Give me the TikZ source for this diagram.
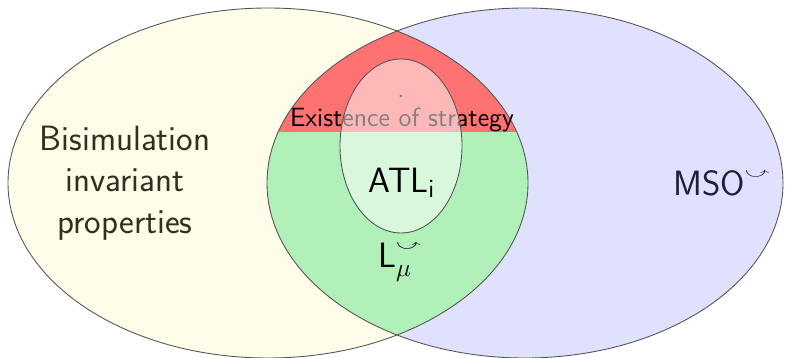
\documentclass[tikz,border=0pt]{standalone}
\usepackage{amssymb}
\usepackage{graphicx}
\newcommand{\unrav}{\raisebox{.35ex}{\rotatebox[origin=c]{180}{\scalebox{1}[.6]{$\scriptstyle\curvearrowleft$}}}}
\definecolor{bisfill}{RGB}{255,252,233}
\definecolor{msofill}{RGB}{224,224,255}
\definecolor{exred}{RGB}{255,114,114}
\definecolor{lmgreen}{RGB}{177,240,184}
\definecolor{bistext}{RGB}{48,48,30}
\definecolor{msotext}{RGB}{32,32,56}
\definecolor{rim}{RGB}{85,85,85}

\begin{document}
\begin{tikzpicture}[x=0.02cm,y=-0.02cm,font=\sffamily]
	\tikzstyle{rand}=[draw=rim,line width=.5pt];
	\tikzstyle{gross}=[font=\sffamily\fontsize{20}{23.5}\selectfont,align=center];
	\tikzstyle{klein}=[font=\sffamily\fontsize{15}{18}\selectfont,inner sep=0pt];
	\useasboundingbox (0,0) rectangle (787,358);
	%% the two big sets
	\fill[bisfill] (268,183) ellipse [x radius=260,y radius=175];
	\fill[msofill] (525,183) ellipse [x radius=258,y radius=175];
	\node[gross,text=bistext] (bis) at (125,183) {Bisimulation\\invariant\\properties};
	\node[gross,text=msotext] (mso) at (722,183) {MSO$^{\unrav}$};
	%% lens = mu-calculus, top part = strategies
	\begin{scope}
		\clip (268,183) ellipse [x radius=260,y radius=175];
		\clip (525,183) ellipse [x radius=258,y radius=175];
		\fill[exred]   (0,0)   rectangle (787,132);
		\fill[lmgreen] (0,132) rectangle (787,358);
	\end{scope}
	\draw[rand] (268,183) ellipse [x radius=260,y radius=175];
	\draw[rand] (525,183) ellipse [x radius=258,y radius=175];
	\node[klein,anchor=south] (exist) at (402,132) {Existence of strategy};
	\node[klein] (dot) at (401,96) {.};
	%% ATL with imperfect information
	\draw[rand,fill=white,fill opacity=.5] (401,146) ellipse [x radius=61,y radius=87];
	\node[gross] (atl) at (402,183) {ATL$_{\mathsf{i}}$};
	\node[gross] (lmu) at (400,262) {L$_\mu^{\unrav}$};
\end{tikzpicture}
\end{document}
